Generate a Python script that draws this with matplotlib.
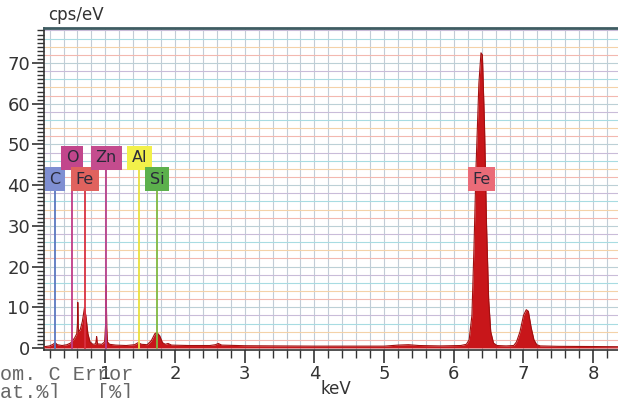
"""
EDS spectrum (cps/eV vs keV) with element line markers
"""
import matplotlib
matplotlib.use('Agg')
import matplotlib.pyplot as plt
from matplotlib.ticker import MultipleLocator

# spectrum outline (keV, cps/eV)
energy_kev = [0.12, 0.20, 0.25, 0.28, 0.31, 0.38, 0.45, 0.50, 0.53, 0.56,
              0.59, 0.600, 0.605, 0.612, 0.62, 0.64, 0.67, 0.70, 0.72, 0.75,
              0.78, 0.82, 0.86, 0.870, 0.875, 0.882, 0.89, 0.95, 0.99, 1.005,
              1.012, 1.02, 1.03, 1.06, 1.15, 1.30, 1.42, 1.47, 1.52, 1.60,
              1.66, 1.71, 1.74, 1.78, 1.82, 1.86, 1.90, 1.95, 2.20, 2.50,
              2.58, 2.62, 2.67, 3.00, 3.50, 4.00, 4.50, 5.00, 5.20, 5.35,
              5.50, 5.80, 6.10, 6.18, 6.22, 6.26, 6.29, 6.32, 6.36, 6.39,
              6.41, 6.44, 6.47, 6.50, 6.53, 6.57, 6.62, 6.75, 6.86, 6.90,
              6.95, 7.00, 7.04, 7.07, 7.11, 7.15, 7.19, 7.24, 7.50, 8.00,
              8.40]
counts = [0.3, 0.5, 0.9, 1.3, 0.8, 0.6, 0.8, 1.2, 1.8, 2.5,
          3.5, 6.0, 11.2, 5.0, 4.0, 4.5, 6.5, 9.8, 8.0, 3.5,
          1.5, 0.9, 1.0, 2.0, 2.8, 1.5, 1.0, 0.9, 1.5, 6.0,
          15.3, 5.0, 1.5, 0.9, 0.7, 0.6, 0.8, 1.3, 0.9, 0.8,
          1.8, 3.5, 3.8, 3.0, 1.3, 0.9, 1.1, 0.7, 0.6, 0.6,
          0.8, 1.1, 0.7, 0.55, 0.5, 0.45, 0.45, 0.45, 0.7, 0.8,
          0.6, 0.5, 0.6, 0.9, 2.0, 8.0, 25.0, 45.0, 65.0, 72.5,
          72.0, 55.0, 30.0, 12.0, 4.0, 1.2, 0.6, 0.5, 0.6, 1.5,
          4.0, 8.0, 9.4, 9.0, 5.0, 2.0, 0.8, 0.5, 0.4, 0.35,
          0.3]

# element markers
elements = ['C', 'O', 'Fe', 'Zn', 'Al', 'Si', 'Fe']
element_kev = [0.277, 0.525, 0.705, 1.012, 1.486, 1.740, 6.398]
element_row = [0, 1, 0, 1, 1, 0, 0]
element_box = ['#7f8fd2', '#c2468c', '#e0625e', '#c44c8e', '#f2f04a', '#5cb04c', '#ea6b78']
element_line = ['#5a78c0', '#c03c88', '#d83040', '#b8408a', '#e8e040', '#80b840', None]

x_ticks = [1, 2, 3, 4, 5, 6, 7, 8]
y_ticks = [0, 10, 20, 30, 40, 50, 60, 70]

GRID_COLORS = ['#f3b8b0', '#f4d2a8', '#a8dce2', '#c9bcd9', '#bcd0d6']
ROW_Y = [41.5, 46.7]


def main() -> None:
    fig = plt.figure(figsize=(6.18, 3.98), dpi=100)
    ax = fig.add_axes([44 / 618, 48 / 398, 1 - 44 / 618, 322 / 398])
    ax.set_xlim(0.12, 8.356)
    ax.set_ylim(-0.5, 78.6)

    # grid: vertical grey every 0.2 keV, horizontal pastel every 2 cps/eV
    v = 0.2
    while v < 8.4:
        ax.axvline(v, color='#c2ccd6', lw=0.8, zorder=0)
        v += 0.2
    for i, h in enumerate(range(2, 80, 2)):
        ax.axhline(h, color=GRID_COLORS[i % len(GRID_COLORS)], lw=0.8, zorder=0)

    # spectrum
    ax.fill_between(energy_kev, 0, counts, color='#c8161a', lw=0, zorder=3)
    ax.plot(energy_kev, counts, color='#a01010', lw=0.8, zorder=4)

    # element lines + labels
    for name, e, row, fc, lc in zip(elements, element_kev, element_row,
                                     element_box, element_line):
        y = ROW_Y[row]
        if lc is not None:
            ax.plot([e, e], [0, y - 2.6], color=lc, lw=1.3, zorder=5)
        ax.text(e, y, name, ha='center', va='center', fontsize=11.5,
                color='#2a2a3a', zorder=6,
                bbox=dict(boxstyle='square,pad=0.3', fc=fc, ec='none'))

    # axes styling
    ax.spines['right'].set_visible(False)
    ax.spines['top'].set_color('#3e5c62')
    ax.spines['top'].set_linewidth(2)
    ax.spines['left'].set_color('#333333')
    ax.spines['left'].set_linewidth(1.2)
    ax.spines['bottom'].set_color('#333333')
    ax.spines['bottom'].set_linewidth(1.2)

    ax.set_xticks(x_ticks)
    ax.set_yticks(y_ticks)
    ax.xaxis.set_minor_locator(MultipleLocator(0.2))
    ax.yaxis.set_minor_locator(MultipleLocator(1))
    ax.tick_params(axis='both', which='major', labelsize=13,
                   colors='#333333', width=1.2)
    ax.tick_params(axis='y', which='major', length=9, pad=1)
    ax.tick_params(axis='y', which='minor', length=5, width=1.0, color='#333333')
    ax.tick_params(axis='x', which='major', length=9, pad=2)
    ax.tick_params(axis='x', which='minor', length=6, width=1.0, color='#333333')

    fig.text(48 / 618, 1 - 15 / 398, 'cps/eV', fontsize=12, color='#333333',
             ha='left', va='center')
    fig.text(336 / 618, 1 - 389 / 398, 'keV', fontsize=12, color='#333333',
             ha='center', va='center')

    # fragments of the neighbouring results table
    fig.text(0, 1 - 374 / 398, 'om. C Error', fontsize=14.5, color='#666666',
             family='Liberation Mono', ha='left', va='center')
    fig.text(0, 1 - 393 / 398, 'at.%]   [%]', fontsize=14.5, color='#666666',
             family='Liberation Mono', ha='left', va='center')

    fig.savefig('out.png', dpi=100)
    plt.close(fig)


if __name__ == '__main__':
    main()
